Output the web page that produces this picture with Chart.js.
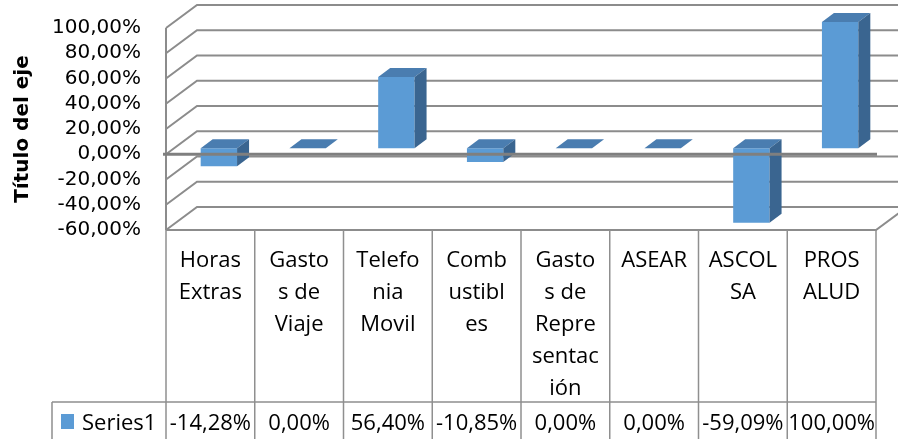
<!DOCTYPE html>
<html>
<head>
<meta charset="utf-8">
<script src="https://cdn.jsdelivr.net/npm/chart.js@4/dist/chart.umd.min.js"></script>
<style>
  html, body { margin: 0; padding: 0; background: #fff; }
  #chart { display: block; }
</style>
</head>
<body>
<canvas id="chart" width="898" height="439"></canvas>
<script>
// category labels, already wrapped the way the table shows them
const categories = [
    ['Horas', 'Extras'],
    ['Gasto', 's de', 'Viaje'],
    ['Telefo', 'nia', 'Movil'],
    ['Comb', 'ustibl', 'es'],
    ['Gasto', 's de', 'Repre', 'sentac', 'ión'],
    ['ASEAR'],
    ['ASCOL', 'SA'],
    ['PROS', 'ALUD']
];
const seriesName = 'Series1';
const series1 = [-14.28, 0.00, 56.40, -10.85, 0.00, 0.00, -59.09, 100.00];
const yMin = -60;
const yMax = 100;
const yStep = 20;
const axisTitle = 'Título del eje';

const pct = v => Number(v).toFixed(2).replace('.', ',') + '%';

const faceColor = '#5b9bd5';
const topColor = '#4a7db0';
const sideColor = '#3a6590';
const gridColor = '#8c8c8c';

const wallDepth = { dx: 31, dy: -23 };
const barShift = { dx: 8.5, dy: -6 };
const barDepth = { dx: 12, dy: -9 };

const excel3d = {
    id: 'excel3d',
    beforeDatasetsDraw(chart) {
        const ctx = chart.ctx;
        const a = chart.chartArea;
        const y = chart.scales.y;

        ctx.save();
        ctx.strokeStyle = gridColor;
        ctx.lineWidth = 2;
        // left wall + back wall gridlines
        y.ticks.forEach(t => {
            const py = y.getPixelForValue(t.value);
            ctx.beginPath();
            ctx.moveTo(a.left, py);
            ctx.lineTo(a.left + wallDepth.dx, py + wallDepth.dy);
            ctx.lineTo(chart.width + 10, py + wallDepth.dy);
            ctx.stroke();
        });
        // front edge of the left wall
        ctx.beginPath();
        ctx.moveTo(a.left, a.top);
        ctx.lineTo(a.left, a.bottom);
        ctx.stroke();
        // floor
        ctx.beginPath();
        ctx.moveTo(a.left, a.bottom);
        ctx.lineTo(a.right, a.bottom);
        ctx.lineTo(a.right + wallDepth.dx, a.bottom + wallDepth.dy);
        ctx.stroke();
        ctx.restore();

        // bars sit a bit behind the front plane
        ctx.save();
        ctx.translate(barShift.dx, barShift.dy);
    },
    afterDatasetsDraw(chart) {
        const ctx = chart.ctx;
        const a = chart.chartArea;
        const y = chart.scales.y;

        chart.getDatasetMeta(0).data.forEach(bar => {
            const p = bar.getProps(['x', 'y', 'base', 'width'], true);
            const l = p.x - p.width / 2;
            const r = p.x + p.width / 2;
            const top = Math.min(p.y, p.base);
            const bottom = Math.max(p.y, p.base);

            ctx.fillStyle = topColor;
            ctx.beginPath();
            ctx.moveTo(l, top);
            ctx.lineTo(l + barDepth.dx, top + barDepth.dy);
            ctx.lineTo(r + barDepth.dx, top + barDepth.dy);
            ctx.lineTo(r, top);
            ctx.closePath();
            ctx.fill();

            if (bottom - top > 0.5) {
                ctx.fillStyle = sideColor;
                ctx.beginPath();
                ctx.moveTo(r, top);
                ctx.lineTo(r + barDepth.dx, top + barDepth.dy);
                ctx.lineTo(r + barDepth.dx, bottom + barDepth.dy);
                ctx.lineTo(r, bottom);
                ctx.closePath();
                ctx.fill();
            }
        });
        ctx.restore();

        // zero line on the front plane
        const y0 = y.getPixelForValue(0);
        ctx.save();
        ctx.strokeStyle = '#7f7f7f';
        ctx.lineWidth = 3;
        ctx.beginPath();
        ctx.moveTo(a.left - 3, y0);
        ctx.lineTo(a.right + 1, y0);
        ctx.stroke();
        ctx.restore();

        // data table under the plot
        const n = categories.length;
        const colW = (a.right - a.left) / n;
        const rowY = 402;
        const tableLeft = 52;

        ctx.save();
        ctx.strokeStyle = '#8f8f8f';
        ctx.lineWidth = 1.5;
        for (let i = 0; i <= n; i++) {
            const cx = a.left + i * colW;
            ctx.beginPath();
            ctx.moveTo(cx, a.bottom);
            ctx.lineTo(cx, chart.height);
            ctx.stroke();
        }
        ctx.beginPath();
        ctx.moveTo(tableLeft, rowY);
        ctx.lineTo(a.right, rowY);
        ctx.moveTo(tableLeft, rowY);
        ctx.lineTo(tableLeft, chart.height);
        ctx.stroke();

        ctx.fillStyle = '#000';
        ctx.font = '22px "Open Sans"';
        ctx.textAlign = 'center';
        ctx.textBaseline = 'alphabetic';
        const xs = chart.scales.x;
        categories.forEach((lines, i) => {
            const cx = xs.getPixelForValue(i);
            lines.forEach((s, k) => ctx.fillText(s, cx, a.bottom + 37 + k * 32));
            ctx.fillText(pct(series1[i]), cx, 430);
        });

        ctx.fillStyle = faceColor;
        ctx.fillRect(61, 414, 13, 15);
        ctx.fillStyle = '#000';
        ctx.textAlign = 'left';
        ctx.fillText(seriesName, 82, 430);
        ctx.restore();
    }
};

new Chart(document.getElementById('chart'), {
    type: 'bar',
    data: {
        labels: categories,
        datasets: [{
            label: seriesName,
            data: series1,
            backgroundColor: faceColor,
            borderWidth: 0,
            barPercentage: 0.41,
            categoryPercentage: 1.0,
            clip: false
        }]
    },
    options: {
        responsive: false,
        animation: false,
        layout: { padding: { top: 28, bottom: 209, right: 22, left: 0 } },
        plugins: {
            legend: { display: false },
            tooltip: { enabled: false }
        },
        scales: {
            x: { display: false },
            y: {
                min: yMin,
                max: yMax,
                grid: { display: false, drawTicks: false },
                border: { display: false },
                ticks: {
                    stepSize: yStep,
                    autoSkip: false,
                    padding: 25,
                    color: '#000',
                    font: { family: 'DejaVu Sans', size: 20 },
                    callback: v => pct(v)
                },
                title: {
                    display: true,
                    text: axisTitle,
                    color: '#000',
                    padding: { top: 11, bottom: 0 },
                    font: { family: 'DejaVu Sans', size: 20, weight: 'bold' }
                },
                afterFit(scale) {
                    scale.width = 166;
                    scale.paddingTop = 0;
                    scale.paddingBottom = 0;
                }
            }
        }
    },
    plugins: [excel3d]
});
</script>
</body>
</html>
